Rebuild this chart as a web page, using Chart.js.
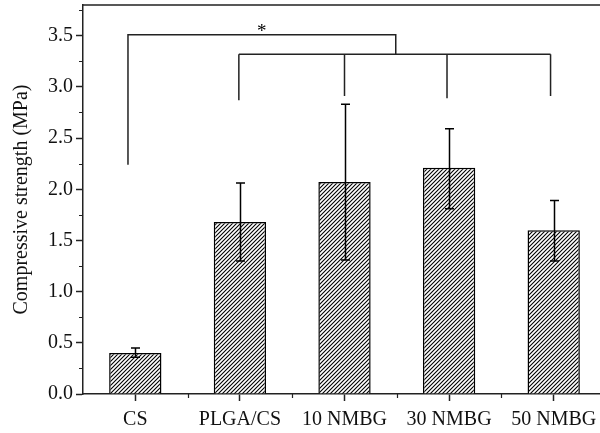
<!DOCTYPE html>
<html>
<head>
<meta charset="utf-8">
<script src="https://cdn.jsdelivr.net/npm/chart.js@4.4.1/dist/chart.umd.min.js"></script>
<style>
    html, body { margin: 0; padding: 0; background: #fff; overflow: hidden; }
    #wrap { width: 606px; height: 433px; }
</style>
</head>
<body>
<div id="wrap"><canvas id="chart" width="606" height="433"></canvas></div>
<script>
// data
const groups = ['CS', 'PLGA/CS', '10 NMBG', '30 NMBG', '50 NMBG'];
const strength = [0.40, 1.68, 2.07, 2.21, 1.60];
const errLow = [0.36, 1.30, 1.31, 1.81, 1.30];
const errHigh = [0.45, 2.06, 2.83, 2.59, 1.89];

// significance bracket: legs are [category index, bottom value]
const sigTop = 3.51;
const sigSub = 3.32;
const sigJoinX = 2.49;
const sigLeftLeg = [-0.07, 2.24];
const sigLegs = [[0.99, 2.87], [2.0, 2.91], [2.98, 2.89], [3.97, 2.91]];
const sigMark = '*';
const sigMarkX = 1.21;

const FONT = 'Liberation Serif, Times New Roman, serif';
const INK = '#222';

function hatchPattern(ctx) {
    const s = 4;
    const p = document.createElement('canvas');
    p.width = p.height = s;
    const g = p.getContext('2d');
    g.fillStyle = '#fff';
    g.fillRect(0, 0, s, s);
    g.strokeStyle = '#000';
    g.lineWidth = 1.1;
    g.beginPath();
    g.moveTo(0, s); g.lineTo(s, 0);
    g.moveTo(-1, 1); g.lineTo(1, -1);
    g.moveTo(s - 1, s + 1); g.lineTo(s + 1, s - 1);
    g.stroke();
    return ctx.createPattern(p, 'repeat');
}

const extras = {
    id: 'extras',
    afterDatasetsDraw(chart) {
        const { ctx, chartArea: a } = chart;
        const x = chart.scales.x, y = chart.scales.y;
        ctx.save();
        ctx.strokeStyle = '#000';
        ctx.lineWidth = 1.5;
        // error bars
        strength.forEach((v, i) => {
            const cx = Math.round(x.getPixelForValue(i)) + 0.5;
            const lo = y.getPixelForValue(errLow[i]);
            const hi = y.getPixelForValue(errHigh[i]);
            ctx.beginPath();
            ctx.moveTo(cx, lo); ctx.lineTo(cx, hi);
            ctx.moveTo(cx - 4.5, hi); ctx.lineTo(cx + 4.5, hi);
            ctx.moveTo(cx - 4.5, lo); ctx.lineTo(cx + 4.5, lo);
            ctx.stroke();
        });
        // bracket
        ctx.strokeStyle = INK;
        const yt = y.getPixelForValue(sigTop), ys = y.getPixelForValue(sigSub);
        const xl = x.getPixelForValue(sigLeftLeg[0]), xj = x.getPixelForValue(sigJoinX);
        ctx.beginPath();
        ctx.moveTo(xl, y.getPixelForValue(sigLeftLeg[1]));
        ctx.lineTo(xl, yt); ctx.lineTo(xj, yt); ctx.lineTo(xj, ys);
        const x0 = x.getPixelForValue(sigLegs[0][0]);
        const x1 = x.getPixelForValue(sigLegs[sigLegs.length - 1][0]);
        ctx.moveTo(x0, ys); ctx.lineTo(x1, ys);
        sigLegs.forEach(([c, v]) => {
            const px = x.getPixelForValue(c);
            ctx.moveTo(px, ys); ctx.lineTo(px, y.getPixelForValue(v));
        });
        ctx.stroke();
        ctx.fillStyle = '#000';
        ctx.font = '19px ' + FONT;
        ctx.textAlign = 'center';
        ctx.textBaseline = 'alphabetic';
        ctx.fillText(sigMark, x.getPixelForValue(sigMarkX), yt + 2);
        // frame top / right
        ctx.lineWidth = 1.5;
        ctx.beginPath();
        ctx.moveTo(a.left, a.top); ctx.lineTo(a.right, a.top); ctx.lineTo(a.right, a.bottom);
        ctx.stroke();
        // minor ticks
        ctx.lineWidth = 1.2;
        ctx.beginPath();
        const yt2 = y.ticks;
        for (let i = 0; i < yt2.length; i++) {
            const next = i + 1 < yt2.length ? yt2[i + 1].value : yt2[i].value + (yt2[1].value - yt2[0].value);
            const mv = (yt2[i].value + next) / 2;
            if (mv > y.max) continue;
            const py = Math.round(y.getPixelForValue(mv)) + 0.5;
            ctx.moveTo(a.left - 4, py); ctx.lineTo(a.left, py);
        }
        for (let i = 0; i < groups.length - 1; i++) {
            const px = Math.round(x.getPixelForValue(i + 0.5)) + 0.5;
            ctx.moveTo(px, a.bottom); ctx.lineTo(px, a.bottom + 4);
        }
        ctx.stroke();
        ctx.restore();
    }
};

const canvas = document.getElementById('chart');
const ctx = canvas.getContext('2d');

new Chart(ctx, {
    type: 'bar',
    data: {
        labels: groups,
        datasets: [{
            data: strength,
            backgroundColor: hatchPattern(ctx),
            borderColor: '#000',
            borderWidth: 1.5,
            barPercentage: 0.5,
            categoryPercentage: 1.0
        }]
    },
    options: {
        responsive: false,
        animation: false,
        layout: { padding: { top: 5, right: 0, left: 0, bottom: 0 } },
        plugins: { legend: { display: false }, tooltip: { enabled: false } },
        scales: {
            x: {
                grid: { drawOnChartArea: false, offset: false, tickLength: 7, tickWidth: 1.5, tickColor: INK },
                border: { color: INK, width: 1.5 },
                ticks: { color: '#111', font: { family: FONT, size: 20 }, padding: 7, maxRotation: 0, autoSkip: false },
                afterFit: s => { s.height = 39; s.paddingLeft = 0; s.paddingRight = 0; }
            },
            y: {
                min: 0, max: 3.8,
                grid: { drawOnChartArea: false, tickLength: 7, tickWidth: 1.5, tickColor: INK },
                border: { color: INK, width: 1.5 },
                ticks: {
                    stepSize: 0.5, includeBounds: false, padding: 3,
                    color: '#111', font: { family: FONT, size: 20 },
                    callback: v => v.toFixed(1)
                },
                title: {
                    display: true, text: 'Compressive strength (MPa)',
                    color: '#111', font: { family: FONT, size: 20 },
                    padding: { top: 10, bottom: 0 }
                },
                afterFit: s => { s.width = 83; s.paddingTop = 0; s.paddingBottom = 0; }
            }
        }
    },
    plugins: [extras]
});
</script>
</body>
</html>
